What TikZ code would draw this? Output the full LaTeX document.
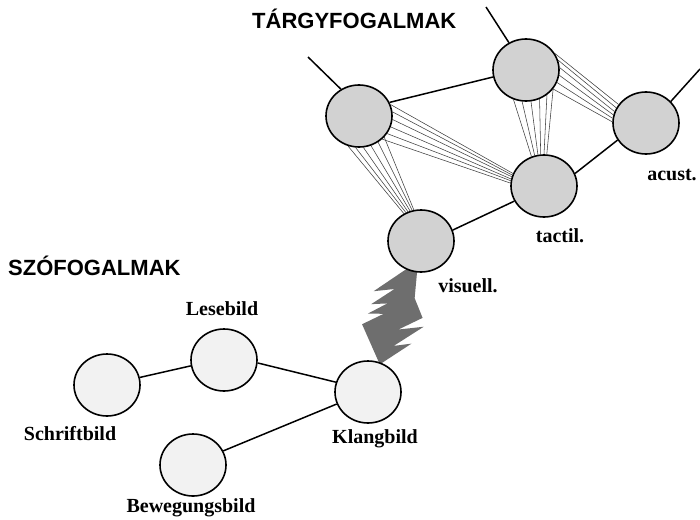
\documentclass[tikz,border=0pt]{standalone}
\usepackage{fontspec}
\setmainfont{Liberation Serif}
\newfontfamily\headfont{Liberation Sans}
\usetikzlibrary{shapes.geometric}
\pgfdeclarelayer{bg}
\pgfsetlayers{bg,main}
\begin{document}
\begin{tikzpicture}[x=1pt,y=-1pt,
  bub/.style={ellipse, draw=black, line width=1.6pt, minimum width=66pt, minimum height=62pt, inner sep=0pt},
  obj/.style={bub, fill=gray!35},
  word/.style={bub, fill=gray!10},
  lab/.style={font=\bfseries\fontsize{20}{24}\selectfont, anchor=base, inner sep=0pt},
  head/.style={font=\headfont\bfseries\fontsize{22}{26}\selectfont, anchor=base west, inner sep=0pt},
  link/.style={line width=1.5pt},
  fan/.style={line width=0.55pt, draw=black!75},
  bigarrow/.style={fill=black!57, draw=none}]
\useasboundingbox (0,0) rectangle (700,519);

% object concepts
\node[obj] (A) at (359,116) {};
\node[obj] (B) at (526,70) {};
\node[obj] (C) at (646,123) {};
\node[obj] (D) at (544,186) {};
\node[obj] (E) at (421,241) {};
% word concepts
\node[word] (S) at (107,385) {};
\node[word] (L) at (224,360) {};
\node[word] (K) at (368,392) {};
\node[word] (W) at (193,465) {};

% labels
\node[head] (h1) at (252,29) {TÁRGYFOGALMAK};
\node[head] (h2) at (8,275) {SZÓFOGALMAK};
\node[lab] (lL) at (222,315) {Lesebild};
\node[lab] (lS) at (70,440) {Schriftbild};
\node[lab] (lK) at (375,443) {Klangbild};
\node[lab] (lW) at (191,512) {Bewegungsbild};
\node[lab] (lE) at (468,292) {visuell.};
\node[lab] (lD) at (560,242) {tactil.};
\node[lab] (lC) at (672,180) {acust.};

% free ends
\coordinate (a0) at (308,57);
\coordinate (b0) at (486,7);
\coordinate (c0) at (700,69);

\begin{pgfonlayer}{bg}
\fill[white] (0,0) rectangle (700,519);
% outgoing lines
\draw[link] (a0) -- (A.124);
\draw[link] (b0) -- (B.122);
\draw[link] (c0) -- (C.41);
% solid links
\draw[link] (A.24) -- (B.192);
\draw[link] (D.22) -- (C.211);
\draw[link] (E.19) -- (D.207);
\draw[link] (S.13) -- (L.190);
\draw[link] (L.-5) -- (K.163);
\draw[link] (W.25) -- (K.201);
% fans
\foreach \p/\q in {250/122,264/118,278/114,292/110,306/106,320/103}
  \draw[fan] (A.\p) -- (E.\q);
\foreach \p/\q in {20/158,7/161,-6/164,-19/168,-32/171,-45/175}
  \draw[fan] (A.\p) -- (D.\q);
\foreach \p/\q in {247/113,263/107,279/101,295/96,310/90,325/85}
  \draw[fan] (B.\p) -- (D.\q);
\foreach \p/\q in {30/146,17/153,4/160,-9/166,-22/172,-35/178}
  \draw[fan] (B.\p) -- (C.\q);
% big jagged double arrow between Klangbild and visuell
\begin{scope}[shift={(K.center)}, rotate=70.7]
  \fill[bigarrow] (30,2) -- (60,25) -- (52,9) -- (80,31) -- (69,8) -- (88,27)
     -- (104,13) -- (140,4) -- (97,-28) -- (106,-9) -- (84,-26)
     -- (90,-11) -- (74,-26) -- (79,-11) -- (62,-28) -- cycle;
\end{scope}
\end{pgfonlayer}
\end{tikzpicture}
\end{document}
